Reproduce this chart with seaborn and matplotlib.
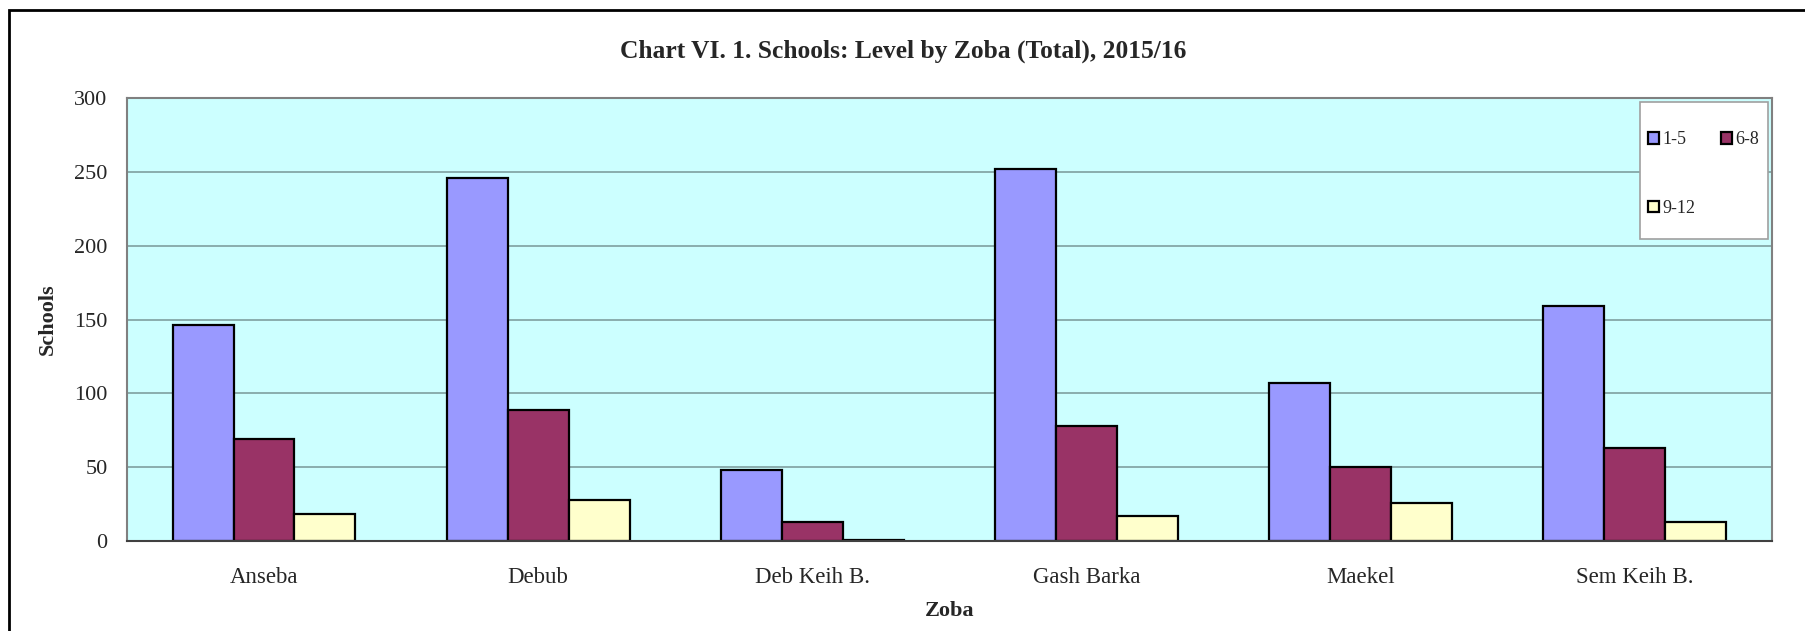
import pandas as pd
import numpy as np
import seaborn as sns
import matplotlib.pyplot as plt
from matplotlib.patches import Rectangle, Patch

# data
zobas = ["Anseba", "Debub", "Deb Keih B.", "Gash Barka", "Maekel", "Sem Keih B."]
levels = ["1-5", "6-8", "9-12"]
level_1_5 = [146, 246, 48, 252, 107, 159]
level_6_8 = [69, 89, 13, 78, 50, 63]
level_9_12 = [18, 28, 1, 17, 26, 13]

df = pd.DataFrame({"Zoba": zobas * 3,
                   "Level": [levels[0]] * 6 + [levels[1]] * 6 + [levels[2]] * 6,
                   "Schools": level_1_5 + level_6_8 + level_9_12})

colors = ["#9999FF", "#993366", "#FFFFCC"]

sns.set_style("white")
plt.rcParams["font.family"] = ["Liberation Serif", "DejaVu Serif"]

fig = plt.figure(figsize=(18.06, 6.31), dpi=100)
ax = fig.add_axes([0.0703, 0.1426, 0.9107, 0.7021])
ax.set_facecolor("#CCFFFF")

sns.barplot(data=df, x="Zoba", y="Schools", hue="Level", palette=colors,
            width=2/3, edgecolor="black", linewidth=1.6, saturation=1, ax=ax, legend=False)

ax.set_ylim(0, 300)
ax.set_xlim(-0.5, 5.5)
ax.set_yticks(np.arange(0, 301, 50))
ax.yaxis.grid(True, color="#7F9F9F", linewidth=1.2)
ax.set_axisbelow(True)
ax.tick_params(axis="y", labelsize=16, length=6, color="gray", width=1, pad=8)
ax.tick_params(axis="x", labelsize=16.5, length=0, pad=19)
ax.set_xticks(np.arange(-0.5, 6, 1), minor=True)
ax.tick_params(axis="x", which="minor", direction="in", length=6, color="#A0A0A0")
for s in ax.spines.values():
    s.set_color("gray")
    s.set_linewidth(1.5)
ax.spines["bottom"].set_color("#404040")

ax.set_xlabel("Zoba", fontsize=16, fontweight="bold", labelpad=9)
ax.set_ylabel("Schools", fontsize=16, fontweight="bold", labelpad=12)
fig.text(0.5, 0.918, "Chart VI. 1. Schools: Level by Zoba (Total), 2015/16",
         ha="center", va="center", fontsize=18.4, fontweight="bold")

# legend: row-wise order 1-5, 6-8 / 9-12, box drawn separately
handles = [Patch(facecolor=c, edgecolor="black", linewidth=1.6) for c in colors]
order = [0, 2, 1]
leg = ax.legend([handles[i] for i in order], [levels[i] for i in order], ncol=2,
                loc="upper left", bbox_to_anchor=(0.925, 0.925),
                borderaxespad=0, borderpad=0, fontsize=13, frameon=False,
                handlelength=0.6, handleheight=0.6, handletextpad=0.2,
                labelspacing=2.85, columnspacing=1.4)
ax.add_patch(Rectangle((0.920, 0.682), 0.0776, 0.309, transform=ax.transAxes,
                       facecolor="white", edgecolor="#A0A0A0", linewidth=1.2, zorder=4))
leg.set_zorder(5)

fig.patches.append(Rectangle((0.005, -0.2), 1.2, 1.184, transform=fig.transFigure,
                             fill=False, edgecolor="black", linewidth=2))

plt.savefig("out.png", dpi=100)
